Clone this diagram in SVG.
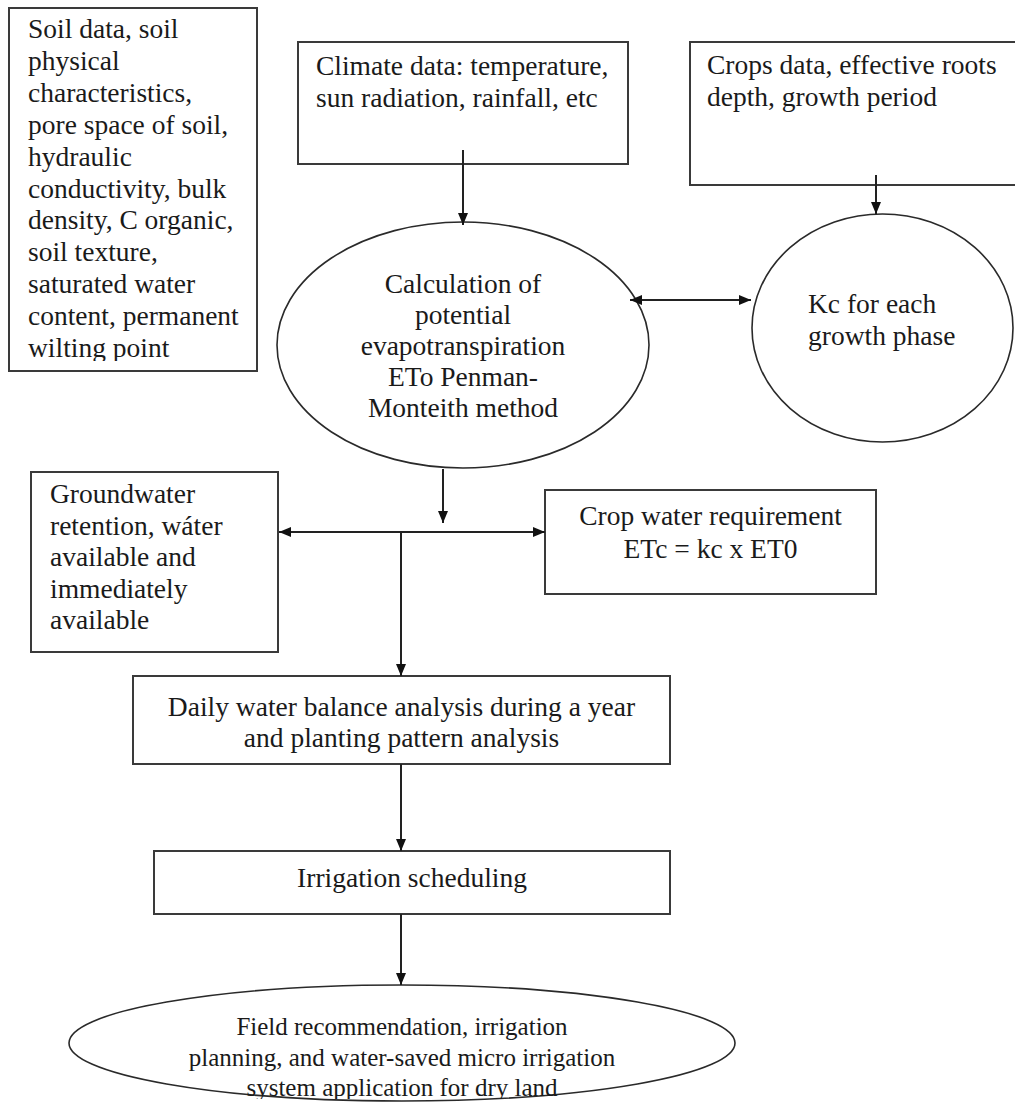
<svg xmlns="http://www.w3.org/2000/svg" width="1015" height="1104" viewBox="0 0 1015 1104">
  <defs>
    <style>
      .box { fill: #ffffff; stroke: #3a3a3a; stroke-width: 2; }
      .ell { fill: #ffffff; stroke: #2a2a2a; stroke-width: 1.6; }
      .t { font-family: "Liberation Serif", "Times New Roman", serif; font-size: 27.5px; fill: #1a1a1a; }
      .tb { font-family: "Liberation Serif", "Times New Roman", serif; font-size: 25px; fill: #1a1a1a; }
      .c { text-anchor: middle; }
      .ln { fill: none; stroke: #222222; stroke-width: 2; }
    </style>
    <marker id="ah" viewBox="0 0 12 10" refX="12" refY="5" markerWidth="12" markerHeight="10" markerUnits="userSpaceOnUse" orient="auto-start-reverse">
      <path d="M0,0 L12,5 L0,10 Z" fill="#111111"/>
    </marker>
    <clipPath id="clipSoil"><rect x="9" y="8" width="248" height="353"/></clipPath>
    <clipPath id="clipBottom"><rect x="0" y="980" width="1015" height="119"/></clipPath>
  </defs>
  <rect x="0" y="0" width="1015" height="1104" fill="#ffffff"/>

  <g id="soil">
    <rect class="box" x="9" y="8" width="248" height="363"/>
    <g clip-path="url(#clipSoil)">
      <text class="t" x="28" y="38">Soil data, soil</text>
      <text class="t" x="28" y="70">physical</text>
      <text class="t" x="28" y="102">characteristics,</text>
      <text class="t" x="28" y="134">pore space of soil,</text>
      <text class="t" x="28" y="166">hydraulic</text>
      <text class="t" x="28" y="198">conductivity, bulk</text>
      <text class="t" x="28" y="229">density, C organic,</text>
      <text class="t" x="28" y="261">soil texture,</text>
      <text class="t" x="28" y="293">saturated water</text>
      <text class="t" x="28" y="325">content, permanent</text>
      <text class="t" x="28" y="357">wilting point</text>
    </g>
  </g>

  <g id="climate">
    <rect class="box" x="298" y="42" width="330" height="122"/>
    <text class="t" x="316" y="75">Climate data: temperature,</text>
    <text class="t" x="316" y="107">sun radiation, rainfall, etc</text>
  </g>

  <g id="crops">
    <path class="box" d="M1015,42 H690 V185 H1015"/>
    <text class="t" x="707" y="74">Crops data, effective roots</text>
    <text class="t" x="707" y="106">depth, growth period</text>
  </g>

  <g id="eto">
    <ellipse class="ell" cx="463" cy="345" rx="186" ry="123"/>
    <text class="t c" x="463" y="293">Calculation of</text>
    <text class="t c" x="463" y="324">potential</text>
    <text class="t c" x="463" y="355">evapotranspiration</text>
    <text class="t c" x="463" y="386">ETo Penman-</text>
    <text class="t c" x="463" y="417">Monteith method</text>
  </g>

  <g id="kc">
    <ellipse class="ell" cx="882.5" cy="328" rx="130.5" ry="114"/>
    <text class="t" x="808" y="313">Kc for each</text>
    <text class="t" x="808" y="345">growth phase</text>
  </g>

  <g id="groundwater">
    <rect class="box" x="31" y="472" width="247" height="180"/>
    <text class="t" x="50" y="503">Groundwater</text>
    <text class="t" x="50" y="535">retention, wáter</text>
    <text class="t" x="50" y="566">available and</text>
    <text class="t" x="50" y="598">immediately</text>
    <text class="t" x="50" y="629">available</text>
  </g>

  <g id="etc">
    <rect class="box" x="545" y="490" width="331" height="104"/>
    <text class="t c" x="710.5" y="525">Crop water requirement</text>
    <text class="t c" x="710.5" y="558">ETc = kc x ET0</text>
  </g>

  <g id="balance">
    <rect class="box" x="133" y="676" width="537" height="88"/>
    <text class="t c" x="401.5" y="716">Daily water balance analysis during a year</text>
    <text class="t c" x="401.5" y="747">and planting pattern analysis</text>
  </g>

  <g id="scheduling">
    <rect class="box" x="154" y="851" width="516" height="63"/>
    <text class="t c" x="412" y="887">Irrigation scheduling</text>
  </g>

  <g id="recommendation">
    <ellipse class="ell" cx="402" cy="1043" rx="333" ry="58" stroke-width="2"/>
    <g clip-path="url(#clipBottom)">
      <text class="tb c" x="402" y="1035">Field recommendation, irrigation</text>
      <text class="tb c" x="402" y="1066">planning, and water-saved micro irrigation</text>
      <text class="tb c" x="402" y="1096">system application for dry land</text>
    </g>
  </g>

  <g id="connectors">
    <line class="ln" x1="463" y1="150" x2="463" y2="225" marker-end="url(#ah)"/>
    <line class="ln" x1="876" y1="175" x2="876" y2="214" marker-end="url(#ah)"/>
    <line class="ln" x1="630" y1="300" x2="751" y2="300" marker-start="url(#ah)" marker-end="url(#ah)"/>
    <line class="ln" x1="443" y1="469" x2="443" y2="523" marker-end="url(#ah)"/>
    <line class="ln" x1="279" y1="532" x2="545" y2="532" marker-start="url(#ah)" marker-end="url(#ah)"/>
    <line class="ln" x1="401" y1="532" x2="401" y2="676" marker-end="url(#ah)"/>
    <line class="ln" x1="401" y1="764" x2="401" y2="851" marker-end="url(#ah)"/>
    <line class="ln" x1="401" y1="914" x2="401" y2="985" marker-end="url(#ah)"/>
  </g>
</svg>
